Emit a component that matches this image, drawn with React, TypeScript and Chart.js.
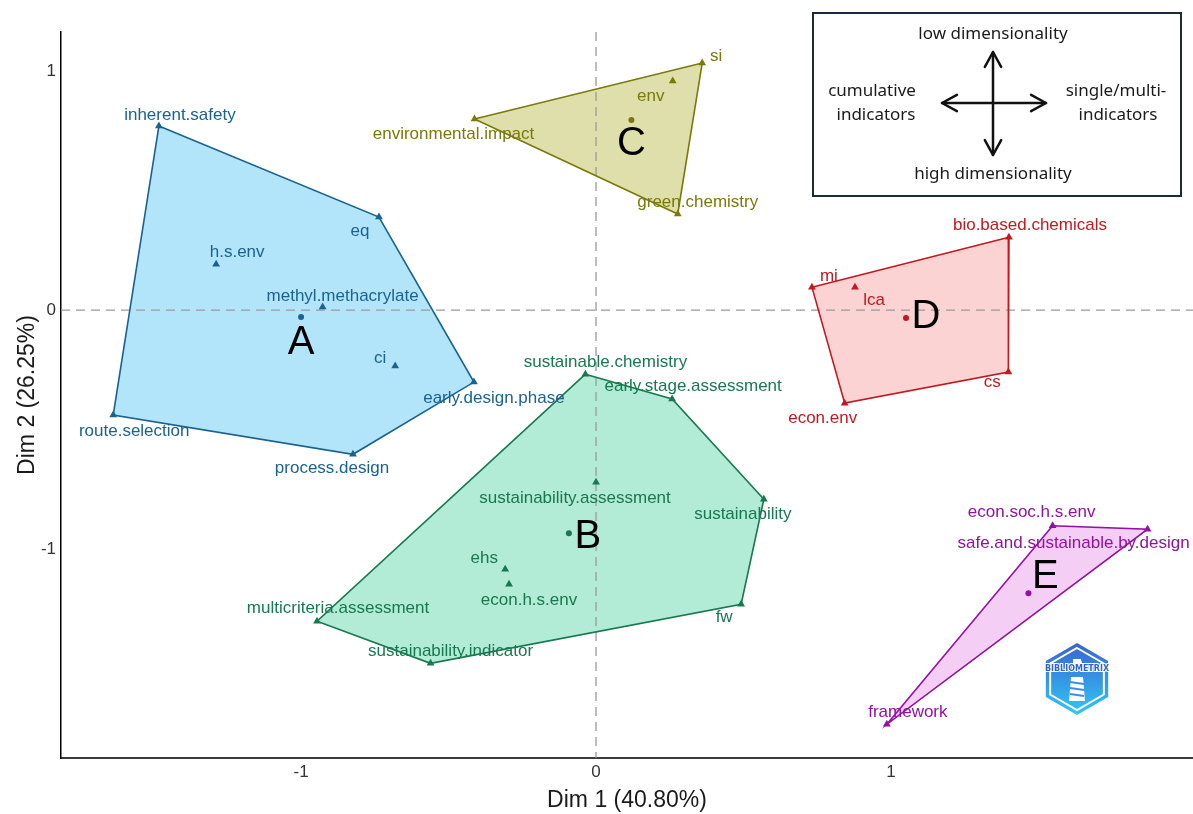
import React, { useEffect, useRef } from 'react';
import { Chart, registerables } from 'chart.js';

Chart.register(...registerables);

// ---------------- data ----------------
const A_TERMS = ['inherent.safety', 'eq', 'h.s.env', 'methyl.methacrylate', 'ci', 'early.design.phase', 'route.selection', 'process.design'];
const A_DIM1 = [-1.482, -0.736, -1.288, -0.927, -0.681, -0.414, -1.637, -0.824];
const A_DIM2 = [0.770, 0.389, 0.192, 0.013, -0.234, -0.301, -0.439, -0.603];
const A_HULL = [0, 1, 5, 7, 6];

const B_TERMS = ['sustainable.chemistry', 'early.stage.assessment', 'sustainability.assessment', 'sustainability', 'fw', 'ehs', 'econ.h.s.env', 'multicriteria.assessment', 'sustainability.indicator'];
const B_DIM1 = [-0.036, 0.258, 0.0, 0.569, 0.492, -0.308, -0.295, -0.946, -0.561];
const B_DIM2 = [-0.268, -0.372, -0.720, -0.791, -1.230, -1.084, -1.146, -1.301, -1.477];
const B_HULL = [0, 1, 3, 4, 8, 7];

const C_TERMS = ['si', 'env', 'environmental.impact', 'green.chemistry'];
const C_DIM1 = [0.360, 0.260, -0.412, 0.277];
const C_DIM2 = [1.033, 0.958, 0.799, 0.402];
const C_HULL = [2, 0, 3];

const D_TERMS = ['bio.based.chemicals', 'mi', 'lca', 'cs', 'econ.env'];
const D_DIM1 = [1.400, 0.732, 0.878, 1.398, 0.843];
const D_DIM2 = [0.305, 0.096, 0.096, -0.259, -0.389];
const D_HULL = [1, 0, 3, 4];

const E_TERMS = ['econ.soc.h.s.env', 'safe.and.sustainable.by.design', 'framework'];
const E_DIM1 = [1.548, 1.870, 0.986];
const E_DIM2 = [-0.902, -0.916, -1.732];
const E_HULL = [0, 1, 2];

const CLUSTER_NAMES = ['A', 'B', 'C', 'D', 'E'];
const CENTROID_DIM1 = [-1.000, -0.092, 0.120, 1.051, 1.466];
const CENTROID_DIM2 = [-0.029, -0.933, 0.795, -0.033, -1.184];

const X_TICKS = [-1, 0, 1];
const Y_TICKS = [-1, 0, 1];
const X_TITLE = 'Dim 1 (40.80%)';
const Y_TITLE = 'Dim 2 (26.25%)';

const KEY_TOP = 'low dimensionality';
const KEY_BOTTOM = 'high dimensionality';
const KEY_LEFT = ['cumulative', 'indicators'];
const KEY_RIGHT = ['single/multi-', 'indicators'];
const LOGO_TEXT = 'BIBLIOMETRIX';

// ---------------- styles ----------------
const CLUSTERS = [
  { terms: A_TERMS, x: A_DIM1, y: A_DIM2, hull: A_HULL },
  { terms: B_TERMS, x: B_DIM1, y: B_DIM2, hull: B_HULL },
  { terms: C_TERMS, x: C_DIM1, y: C_DIM2, hull: C_HULL },
  { terms: D_TERMS, x: D_DIM1, y: D_DIM2, hull: D_HULL },
  { terms: E_TERMS, x: E_DIM1, y: E_DIM2, hull: E_HULL },
];

const COLORS = [
  { line: '#1a6290', fill: '#b3e5fa' },
  { line: '#17794f', fill: '#b2ebd6' },
  { line: '#7a790a', fill: '#dfdfab' },
  { line: '#c2181f', fill: '#fbd3d2' },
  { line: '#9211a3', fill: '#f5cef5' },
];

// label offsets in pixels (repel-like placement)
const LABEL_OFFSET: Record<string, [number, number]> = {
  'inherent.safety': [21, -11], 'eq': [-19, 14], 'h.s.env': [21, -12], 'methyl.methacrylate': [20, -11],
  'ci': [-15, -8], 'early.design.phase': [20, 16], 'route.selection': [21, 16], 'process.design': [-21, 14],
  'sustainable.chemistry': [20, -12], 'early.stage.assessment': [21, -13], 'sustainability.assessment': [-21, 16],
  'sustainability': [-21, 15], 'fw': [-17, 13], 'ehs': [-21, -11], 'econ.h.s.env': [20, 16],
  'multicriteria.assessment': [21, -13], 'sustainability.indicator': [20, -12],
  'si': [14, -7], 'env': [-22, 15], 'environmental.impact': [-21, 15], 'green.chemistry': [20, -12],
  'bio.based.chemicals': [21, -12], 'mi': [17, -11], 'lca': [19, 13], 'cs': [-16, 10], 'econ.env': [-22, 15],
  'econ.soc.h.s.env': [-21, -13], 'safe.and.sustainable.by.design': [-74, 14], 'framework': [21, -12],
};
const LETTER_OFFSET: [number, number][] = [[0, 26], [19, 4], [0, 24], [20, -1], [17, -16]];

const LABEL_FONT = '17px "Liberation Sans", Arial, sans-serif';
const LETTER_FONT = '40px "Liberation Sans", Arial, sans-serif';
const KEY_FONT = '17px "Noto Sans", sans-serif';

function drawLogo(ctx: CanvasRenderingContext2D, cx: number, cy: number, r: number) {
  const hex = (rr: number) => {
    ctx.beginPath();
    for (let k = 0; k < 6; k++) {
      const a = -Math.PI / 2 + (k * Math.PI) / 3;
      const px = cx + rr * Math.cos(a);
      const py = cy + rr * Math.sin(a);
      if (k === 0) ctx.moveTo(px, py);
      else ctx.lineTo(px, py);
    }
    ctx.closePath();
  };
  ctx.save();
  const g = ctx.createLinearGradient(cx, cy - r, cx, cy + r);
  g.addColorStop(0, '#3a63d2');
  g.addColorStop(1, '#30c8f6');
  hex(r);
  ctx.fillStyle = g;
  ctx.fill();
  hex(r - 5);
  ctx.strokeStyle = '#ffffff';
  ctx.lineWidth = 2;
  ctx.stroke();
  // lighthouse
  ctx.fillStyle = '#ffffff';
  ctx.fillRect(cx - 4, cy - 20, 8, 6);
  ctx.beginPath();
  ctx.moveTo(cx - 6, cy - 2);
  ctx.lineTo(cx + 6, cy - 2);
  ctx.lineTo(cx + 8, cy + 22);
  ctx.lineTo(cx - 8, cy + 22);
  ctx.closePath();
  ctx.fill();
  ctx.strokeStyle = '#3a8ee6';
  ctx.lineWidth = 2;
  for (let k = 0; k < 3; k++) {
    ctx.beginPath();
    ctx.moveTo(cx - 7, cy + 3 + k * 6);
    ctx.lineTo(cx + 7, cy + 5 + k * 6);
    ctx.stroke();
  }
  ctx.font = 'bold 8px "DejaVu Sans", sans-serif';
  ctx.textAlign = 'center';
  ctx.textBaseline = 'middle';
  ctx.lineWidth = 2;
  ctx.strokeStyle = '#ffffff';
  ctx.strokeText(LOGO_TEXT, cx, cy - 10);
  ctx.fillStyle = '#2f64d0';
  ctx.fillText(LOGO_TEXT, cx, cy - 10);
  ctx.restore();
}

function arrowHead(ctx: CanvasRenderingContext2D, tipX: number, tipY: number, dx: number, dy: number) {
  const len = 17;
  const spread = 0.5;
  const ang = Math.atan2(dy, dx);
  ctx.beginPath();
  ctx.moveTo(tipX - len * Math.cos(ang - spread), tipY - len * Math.sin(ang - spread));
  ctx.lineTo(tipX, tipY);
  ctx.lineTo(tipX - len * Math.cos(ang + spread), tipY - len * Math.sin(ang + spread));
  ctx.stroke();
}

const overlayPlugin = {
  id: 'overlay',
  beforeDatasetsDraw(chart: any) {
    const { ctx, chartArea, scales } = chart;
    const x0 = scales.x.getPixelForValue(0);
    const y0 = scales.y.getPixelForValue(0);
    ctx.save();
    ctx.strokeStyle = '#9a9a9a';
    ctx.lineWidth = 1.3;
    ctx.setLineDash([9, 6]);
    ctx.beginPath();
    ctx.moveTo(x0, chartArea.top);
    ctx.lineTo(x0, chartArea.bottom);
    ctx.moveTo(chartArea.left, y0);
    ctx.lineTo(chartArea.right, y0);
    ctx.stroke();
    ctx.restore();
  },
  afterDatasetsDraw(chart: any) {
    const { ctx, scales } = chart;
    ctx.save();
    ctx.font = LABEL_FONT;
    ctx.textAlign = 'center';
    ctx.textBaseline = 'middle';
    CLUSTERS.forEach((cl, i) => {
      ctx.fillStyle = COLORS[i].line;
      cl.terms.forEach((t, k) => {
        const px = scales.x.getPixelForValue(cl.x[k]);
        const py = scales.y.getPixelForValue(cl.y[k]);
        const off = LABEL_OFFSET[t] || [0, -12];
        ctx.fillText(t, px + off[0], py + off[1]);
      });
    });
    ctx.font = LETTER_FONT;
    ctx.fillStyle = '#000000';
    CLUSTER_NAMES.forEach((n, i) => {
      const px = scales.x.getPixelForValue(CENTROID_DIM1[i]);
      const py = scales.y.getPixelForValue(CENTROID_DIM2[i]);
      ctx.fillText(n, px + LETTER_OFFSET[i][0], py + LETTER_OFFSET[i][1]);
    });
    ctx.restore();
  },
  afterDraw(chart: any) {
    const { ctx } = chart;
    ctx.save();
    ctx.strokeStyle = '#1b2a38';
    ctx.lineWidth = 2;
    ctx.strokeRect(813, 13, 368, 183);
    ctx.fillStyle = '#1a1a1a';
    ctx.font = KEY_FONT;
    ctx.textAlign = 'center';
    ctx.textBaseline = 'middle';
    ctx.fillText(KEY_TOP, 993, 34);
    ctx.fillText(KEY_BOTTOM, 993, 174);
    ctx.fillText(KEY_LEFT[0], 872, 91);
    ctx.fillText(KEY_LEFT[1], 876, 115);
    ctx.fillText(KEY_RIGHT[0], 1116, 91);
    ctx.fillText(KEY_RIGHT[1], 1118, 115);
    ctx.strokeStyle = '#111111';
    ctx.lineWidth = 2.5;
    ctx.lineCap = 'round';
    ctx.lineJoin = 'round';
    ctx.beginPath();
    ctx.moveTo(993, 52);
    ctx.lineTo(993, 155);
    ctx.moveTo(942, 103);
    ctx.lineTo(1046, 103);
    ctx.stroke();
    arrowHead(ctx, 993, 52, 0, -1);
    arrowHead(ctx, 993, 155, 0, 1);
    arrowHead(ctx, 942, 103, -1, 0);
    arrowHead(ctx, 1046, 103, 1, 0);
    ctx.restore();
    drawLogo(ctx, 1077, 679, 36);
  },
};

function buildDatasets() {
  const ds: any[] = [];
  CLUSTERS.forEach((cl, i) => {
    const ring = [...cl.hull, cl.hull[0]];
    ds.push({
      type: 'line',
      data: ring.map((k) => ({ x: cl.x[k], y: cl.y[k] })),
      borderColor: COLORS[i].line,
      backgroundColor: COLORS[i].fill,
      borderWidth: 1.6,
      pointRadius: 0,
      tension: 0,
      fill: 'shape',
      order: 3,
    });
    ds.push({
      type: 'scatter',
      data: cl.terms.map((_, k) => ({ x: cl.x[k], y: cl.y[k] })),
      pointStyle: 'triangle',
      pointRadius: 4.5,
      backgroundColor: COLORS[i].line,
      borderColor: COLORS[i].line,
      borderWidth: 0,
      order: 2,
    });
    ds.push({
      type: 'scatter',
      data: [{ x: CENTROID_DIM1[i], y: CENTROID_DIM2[i] }],
      pointStyle: 'circle',
      pointRadius: 3,
      backgroundColor: COLORS[i].line,
      borderColor: COLORS[i].line,
      borderWidth: 0,
      order: 1,
    });
  });
  return ds;
}

export default function App() {
  const ref = useRef<HTMLCanvasElement>(null);
  useEffect(() => {
    if (!ref.current) return;
    const chart = new Chart(ref.current, {
      type: 'scatter',
      data: { datasets: buildDatasets() },
      options: {
        animation: false,
        responsive: false,
        devicePixelRatio: 1,
        layout: { autoPadding: false, padding: { top: 32, right: 0, left: 0, bottom: 0 } },
        plugins: {
          legend: { display: false },
          tooltip: { enabled: false },
          filler: { drawTime: 'beforeDatasetsDraw' },
        },
        scales: {
          x: {
            type: 'linear',
            min: -1.814,
            max: 2.024,
            grid: { display: false, drawTicks: false },
            border: { display: true, color: '#3a3a3a', width: 2 },
            ticks: { color: '#333333', padding: 4, font: { family: '"Liberation Sans", Arial, sans-serif', size: 17 } },
            afterBuildTicks: (s: any) => { s.ticks = X_TICKS.map((v) => ({ value: v })); },
            afterFit: (s: any) => { s.height = 56; },
            title: {
              display: true,
              text: X_TITLE,
              color: '#1a1a1a',
              font: { family: '"Liberation Sans", Arial, sans-serif', size: 23, lineHeight: 1.2 },
              padding: { top: 0, bottom: 0 },
            },
          },
          y: {
            type: 'linear',
            min: -1.873,
            max: 1.163,
            grid: { display: false, drawTicks: false },
            border: { display: true, color: '#000000', width: 1.5 },
            ticks: { color: '#333333', padding: 5, font: { family: '"Liberation Sans", Arial, sans-serif', size: 17 } },
            afterBuildTicks: (s: any) => { s.ticks = Y_TICKS.map((v) => ({ value: v })); },
            afterFit: (s: any) => { s.width = 61; },
            title: {
              display: true,
              text: Y_TITLE,
              color: '#1a1a1a',
              font: { family: '"Liberation Sans", Arial, sans-serif', size: 23, lineHeight: 1.2 },
              padding: { top: 14, bottom: 0 },
            },
          },
        },
      },
      plugins: [overlayPlugin],
    } as any);
    return () => chart.destroy();
  }, []);
  return (
    <div style={{ position: 'absolute', left: 0, top: 0, width: 1193, height: 814, background: '#ffffff' }}>
      <canvas ref={ref} width={1193} height={814} style={{ display: 'block', width: 1193, height: 814 }} />
    </div>
  );
}
